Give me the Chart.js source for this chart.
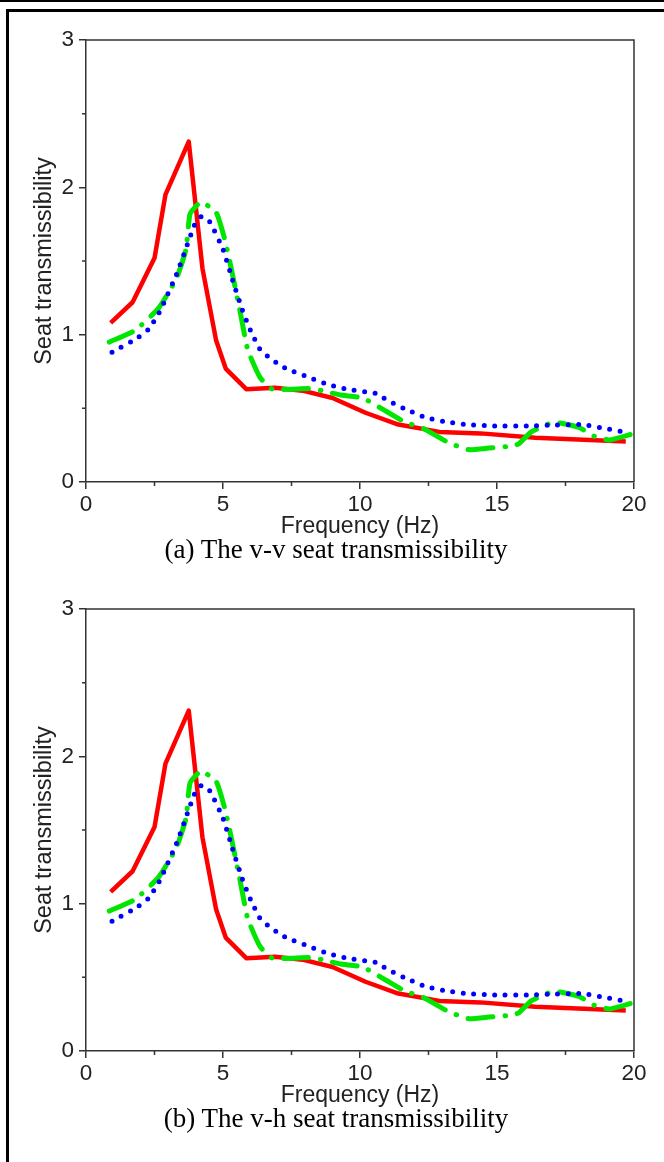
<!DOCTYPE html>
<html>
<head>
<meta charset="utf-8">
<script src="https://cdn.jsdelivr.net/npm/chart.js@4"></script>
<style>
  body { margin: 0; width: 664px; height: 1162px; background: #fff; position: relative; overflow: hidden; }
  .topline { position: absolute; left: 0; top: 0; width: 664px; height: 2px; background: #000; }
  .frame { position: absolute; left: 6px; top: 9px; width: 700px; height: 1200px;
           border-top: 3px solid #000; border-left: 3px solid #000; }
  canvas { position: absolute; left: 0; }
  .caption { position: absolute; left: 0; width: 672px; text-align: center;
             font-family: "Liberation Serif", "Times New Roman", serif; font-size: 27px; color: #000; }
</style>
</head>
<body>
<div class="topline"></div>
<div class="frame"></div>
<canvas id="chartA" width="664" height="540" style="top:0px"></canvas>
<div class="caption" style="top:534px">(a) The v-v seat transmissibility</div>
<canvas id="chartB" width="664" height="540" style="top:569px"></canvas>
<div class="caption" style="top:1103px">(b) The v-h seat transmissibility</div>
<script>
// frequency (Hz) / transmissibility
const redFreq = [0.9, 1.7, 2.5, 2.9, 3.75, 4.25, 4.75, 5.1, 5.85, 6.9, 7.9, 9.0, 10.2, 11.4, 12.9, 14.4, 16.4, 19.7];
const redTrans = [1.08, 1.22, 1.52, 1.95, 2.31, 1.45, 0.96, 0.77, 0.63, 0.64, 0.62, 0.57, 0.47, 0.39, 0.34, 0.33, 0.30, 0.275];

const blueFreq = [0.95, 1.9, 2.3, 2.7, 3.35, 3.95, 4.2, 4.5, 5.0, 5.35, 5.7, 6.0, 6.35, 6.65, 6.95, 7.3, 8.0, 8.7, 9.5, 10.25, 10.6, 10.95, 11.6, 12.35, 13.1, 13.9, 15.0, 16.2, 16.9, 18.1, 18.9, 19.65];
const blueTrans = [0.88, 0.98, 1.04, 1.16, 1.43, 1.74, 1.80, 1.77, 1.58, 1.37, 1.17, 1.03, 0.90, 0.85, 0.81, 0.77, 0.72, 0.67, 0.63, 0.61, 0.60, 0.56, 0.50, 0.44, 0.41, 0.39, 0.38, 0.38, 0.385, 0.39, 0.365, 0.34];

const greenFreq = [0.85, 1.8, 2.65, 3.3, 3.65, 3.8, 4.2, 4.75, 5.1, 5.6, 5.9, 6.35, 6.8, 7.5, 8.15, 8.6, 9.3, 10.1, 10.95, 11.6, 12.35, 13.2, 13.95, 14.7, 15.6, 15.8, 16.25, 16.95, 17.3, 18.0, 18.55, 19.1, 20.0];
const greenTrans = [0.95, 1.03, 1.18, 1.38, 1.58, 1.82, 1.90, 1.83, 1.62, 1.18, 0.90, 0.71, 0.63, 0.63, 0.635, 0.62, 0.59, 0.57, 0.48, 0.41, 0.36, 0.27, 0.22, 0.23, 0.245, 0.26, 0.34, 0.40, 0.40, 0.37, 0.31, 0.285, 0.33];

const xMinor = [2.5, 7.5, 12.5, 17.5];
const yMinor = [0.5, 1.5, 2.5];

const axisColor = "#333";
const labelColor = "#222";

function toPoints(xs, ys) {
  return xs.map((x, i) => ({ x: x, y: ys[i] }));
}

// draws the top/right box and the short minor ticks
const boxAndMinor = {
  id: "boxAndMinor",
  afterDraw(chart) {
    const ctx = chart.ctx;
    const a = chart.chartArea;
    const xs = chart.scales.x;
    const ys = chart.scales.y;
    ctx.save();
    ctx.strokeStyle = axisColor;
    ctx.lineWidth = 1.5;
    ctx.beginPath();
    ctx.moveTo(a.left, a.top);
    ctx.lineTo(a.right, a.top);
    ctx.lineTo(a.right, a.bottom);
    ctx.stroke();
    ctx.beginPath();
    xMinor.forEach((v) => {
      const px = xs.getPixelForValue(v);
      ctx.moveTo(px, a.bottom);
      ctx.lineTo(px, a.bottom + 4);
    });
    yMinor.forEach((v) => {
      const py = ys.getPixelForValue(v);
      ctx.moveTo(a.left, py);
      ctx.lineTo(a.left - 4, py);
    });
    ctx.stroke();
    ctx.restore();
  },
};

function makeChart(id) {
  const ctx = document.getElementById(id).getContext("2d");
  return new Chart(ctx, {
    type: "line",
    data: {
      datasets: [
        {
          label: "blue",
          data: toPoints(blueFreq, blueTrans),
          borderColor: "#0000ff",
          borderWidth: 5,
          borderDash: [0, 10.5],
          borderCapStyle: "round",
          pointRadius: 0,
          tension: 0.15,
        },
        {
          label: "green",
          data: toPoints(greenFreq, greenTrans),
          borderColor: "#00e600",
          borderWidth: 5,
          borderDash: [25, 12, 0.5, 12],
          borderCapStyle: "round",
          pointRadius: 0,
          tension: 0.15,
        },
        {
          label: "red",
          data: toPoints(redFreq, redTrans),
          borderColor: "#ff0000",
          borderWidth: 4.5,
          borderJoinStyle: "round",
          pointRadius: 0,
          tension: 0,
        },
      ],
    },
    options: {
      responsive: false,
      devicePixelRatio: 1,
      animation: false,
      layout: { padding: { top: 40, right: 30, bottom: 0, left: 0 } },
      plugins: { legend: { display: false }, tooltip: { enabled: false } },
      scales: {
        x: {
          type: "linear",
          min: 0,
          max: 20,
          afterFit: (s) => { s.height = 58; },
          ticks: {
            stepSize: 5,
            padding: 2,
            color: labelColor,
            font: { family: "'Liberation Sans', Arial, sans-serif", size: 22.5 },
          },
          grid: { drawOnChartArea: false, drawTicks: true, tickLength: 7, color: axisColor, lineWidth: 1.5 },
          border: { display: true, color: axisColor, width: 1.5 },
          title: {
            display: true,
            text: "Frequency (Hz)",
            color: labelColor,
            padding: { top: 0, bottom: 0 },
            font: { family: "'Liberation Sans', Arial, sans-serif", size: 23 },
          },
        },
        y: {
          type: "linear",
          min: 0,
          max: 3,
          afterFit: (s) => { s.width = 86; },
          ticks: {
            stepSize: 1,
            padding: 5,
            color: labelColor,
            font: { family: "'Liberation Sans', Arial, sans-serif", size: 22.5 },
          },
          grid: { drawOnChartArea: false, drawTicks: true, tickLength: 7, color: axisColor, lineWidth: 1.5 },
          border: { display: true, color: axisColor, width: 1.5 },
          title: {
            display: true,
            text: "Seat transmissibility",
            color: labelColor,
            padding: { top: 30, bottom: 0 },
            font: { family: "'Liberation Sans', Arial, sans-serif", size: 23.5 },
          },
        },
      },
    },
    plugins: [boxAndMinor],
  });
}

makeChart("chartA");
makeChart("chartB");
</script>
</body>
</html>
